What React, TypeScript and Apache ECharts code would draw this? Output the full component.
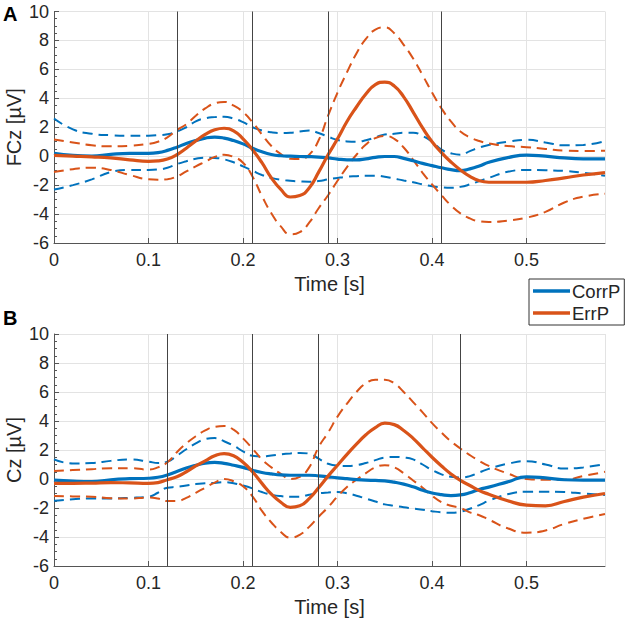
import React, { useEffect, useRef } from "react";
import * as echarts from "echarts";

// time samples [s]
const time = [0, 0.02, 0.04, 0.06, 0.08, 0.1, 0.11, 0.12, 0.13, 0.14, 0.15, 0.16, 0.17, 0.18, 0.19, 0.2, 0.21, 0.22, 0.23, 0.24, 0.25, 0.26, 0.27, 0.28, 0.29, 0.3, 0.31, 0.32, 0.33, 0.34, 0.35, 0.36, 0.37, 0.38, 0.39, 0.4, 0.41, 0.42, 0.43, 0.44, 0.45, 0.46, 0.48, 0.5, 0.52, 0.54, 0.56, 0.583];

// Panel A (FCz)
const corrMeanA = [0.2, 0.05, 0.0, 0.13, 0.2, 0.2, 0.25, 0.4, 0.62, 0.88, 1.08, 1.25, 1.32, 1.25, 1.08, 0.85, 0.55, 0.3, 0.12, 0.03, 0.0, -0.02, -0.03, -0.06, -0.12, -0.2, -0.25, -0.25, -0.18, -0.08, -0.02, -0.02, -0.15, -0.32, -0.5, -0.65, -0.8, -0.93, -1.0, -0.88, -0.68, -0.42, -0.1, 0.08, 0.0, -0.12, -0.18, -0.19];
const corrUpA = [2.6, 1.85, 1.55, 1.45, 1.42, 1.42, 1.45, 1.52, 1.7, 2.0, 2.4, 2.62, 2.7, 2.73, 2.6, 2.35, 2.0, 1.78, 1.65, 1.6, 1.62, 1.7, 1.78, 1.6, 1.35, 1.12, 1.02, 1.0, 1.1, 1.3, 1.5, 1.55, 1.62, 1.62, 1.4, 1.0, 0.45, 0.2, 0.1, 0.35, 0.6, 0.78, 1.0, 1.13, 0.95, 0.75, 0.78, 1.05];
const corrLoA = [-2.3, -2.0, -1.6, -1.1, -0.95, -0.95, -0.92, -0.8, -0.55, -0.35, -0.18, -0.1, -0.12, -0.22, -0.42, -0.7, -1.0, -1.3, -1.5, -1.63, -1.7, -1.74, -1.76, -1.72, -1.6, -1.5, -1.42, -1.38, -1.35, -1.35, -1.42, -1.55, -1.68, -1.8, -1.95, -2.08, -2.15, -2.18, -2.12, -1.95, -1.72, -1.5, -1.08, -0.95, -0.97, -1.02, -1.15, -1.35];
const errMeanA = [0.05, 0.0, -0.05, -0.12, -0.25, -0.36, -0.33, -0.2, 0.1, 0.55, 1.05, 1.5, 1.82, 1.93, 1.75, 1.2, 0.45, -0.45, -1.5, -2.3, -2.82, -2.72, -2.2, -1.1, 0.1, 1.2, 2.4, 3.4, 4.3, 4.95, 5.12, 4.85, 4.1, 3.05, 1.95, 1.0, 0.25, -0.4, -0.95, -1.4, -1.7, -1.8, -1.8, -1.8, -1.68, -1.5, -1.3, -1.13];
const errUpA = [1.15, 0.95, 0.75, 0.68, 0.72, 0.85, 1.0, 1.3, 1.8, 2.2, 2.8, 3.3, 3.65, 3.75, 3.5, 3.05, 2.35, 1.5, 0.7, 0.15, -0.18, -0.2, 0.1, 1.1, 2.8, 4.4, 5.8, 7.1, 8.1, 8.75, 8.9, 8.5, 7.7, 6.75, 5.6, 4.4, 3.3, 2.4, 1.7, 1.3, 1.05, 0.88, 0.7, 0.62, 0.5, 0.38, 0.36, 0.38];
const errLoA = [-1.1, -0.9, -0.8, -0.95, -1.3, -1.6, -1.63, -1.6, -1.4, -1.05, -0.7, -0.38, -0.05, 0.1, -0.05, -0.45, -1.4, -2.75, -3.95, -4.85, -5.4, -5.25, -4.6, -3.6, -2.7, -1.7, -0.75, 0.1, 0.8, 1.25, 1.4, 1.2, 0.6, -0.25, -1.15, -1.95, -2.7, -3.4, -3.95, -4.3, -4.5, -4.55, -4.45, -4.25, -3.85, -3.2, -2.8, -2.6];
const eventsA = [0.132, 0.215, 0.2885, 0.412];

// Panel B (Cz)
const corrMeanB = [-0.08, -0.15, -0.18, -0.05, 0.02, 0.05, 0.12, 0.28, 0.52, 0.76, 0.95, 1.1, 1.15, 1.08, 0.95, 0.8, 0.6, 0.45, 0.35, 0.28, 0.26, 0.26, 0.26, 0.22, 0.15, 0.08, 0.02, -0.04, -0.08, -0.1, -0.13, -0.22, -0.35, -0.54, -0.78, -0.97, -1.08, -1.14, -1.1, -0.95, -0.72, -0.56, -0.2, 0.15, 0.08, -0.05, -0.08, -0.08];
const corrUpB = [1.35, 1.07, 1.1, 1.25, 1.35, 1.2, 1.1, 1.2, 1.6, 2.05, 2.45, 2.75, 2.82, 2.6, 2.3, 1.9, 1.6, 1.55, 1.62, 1.7, 1.76, 1.8, 1.75, 1.4, 1.05, 0.92, 0.9, 0.95, 1.1, 1.3, 1.48, 1.52, 1.48, 1.35, 1.0, 0.62, 0.32, 0.15, 0.1, 0.2, 0.45, 0.7, 1.05, 1.23, 1.0, 0.72, 0.8, 1.03];
const corrLoB = [-1.5, -1.4, -1.34, -1.34, -1.3, -1.22, -0.95, -0.6, -0.54, -0.45, -0.35, -0.3, -0.27, -0.22, -0.3, -0.45, -0.65, -0.9, -1.08, -1.18, -1.22, -1.22, -1.08, -0.98, -0.93, -0.9, -0.98, -1.15, -1.35, -1.55, -1.75, -1.85, -1.95, -2.03, -2.12, -2.22, -2.3, -2.33, -2.26, -2.05, -1.8, -1.5, -1.05, -0.88, -0.88, -0.9, -1.0, -1.1];
const errMeanB = [-0.3, -0.3, -0.28, -0.25, -0.27, -0.3, -0.25, -0.05, 0.15, 0.5, 0.9, 1.25, 1.6, 1.75, 1.6, 1.15, 0.5, -0.3, -1.05, -1.6, -1.95, -1.85, -1.35, -0.6, 0.2, 0.95, 1.7, 2.4, 3.05, 3.55, 3.85, 3.75, 3.35, 2.8, 2.15, 1.5, 0.9, 0.35, -0.1, -0.45, -0.8, -1.05, -1.5, -1.8, -1.85, -1.55, -1.25, -1.0];
const errUpB = [0.55, 0.62, 0.68, 0.75, 0.75, 0.65, 0.8, 1.15, 1.85, 2.45, 2.95, 3.35, 3.6, 3.65, 3.4, 2.8, 2.1, 1.35, 0.8, 0.35, 0.0, 0.15, 0.8, 2.2, 3.2, 4.3, 5.2, 6.0, 6.6, 6.85, 6.85, 6.6, 6.0, 5.3, 4.6, 3.85, 3.2, 2.6, 2.1, 1.65, 1.25, 0.9, 0.38, 0.0, -0.05, -0.05, 0.2, 0.5];
const errLoB = [-1.18, -1.2, -1.22, -1.32, -1.35, -1.28, -1.35, -1.52, -1.52, -1.3, -0.95, -0.6, -0.25, 0.0, -0.15, -0.5, -1.2, -2.2, -3.0, -3.65, -4.05, -3.85, -3.3, -2.6, -1.95, -1.2, -0.55, -0.05, 0.4, 0.8, 0.95, 0.8, 0.4, -0.1, -0.6, -1.15, -1.6, -1.85, -2.0, -2.3, -2.5, -2.8, -3.4, -3.7, -3.55, -3.1, -2.75, -2.42];
const eventsB = [0.122, 0.215, 0.285, 0.43];

const panelLabels = ["A", "B"];
const yNames = ["FCz [µV]", "Cz [µV]"];
const xName = "Time [s]";
const legendNames = ["CorrP", "ErrP"];

const BLUE = "#0072BD";
const ORANGE = "#D95319";
const FONT = "'Liberation Sans', Arial, Helvetica, sans-serif";
const TXT = "#262626";

const pair = (vals: number[]) => vals.map((v, i) => [time[i], v]);

export default function App() {
  const ref = useRef<HTMLDivElement>(null);
  useEffect(() => {
    if (!ref.current) return;
    const chart = echarts.init(ref.current, undefined, { renderer: "svg" });

    const xAxisCfg = (gi: number) => ({
      type: "value",
      gridIndex: gi,
      min: 0,
      max: 0.583,
      interval: 0.1,
      name: xName,
      nameLocation: "middle",
      nameGap: 31,
      nameMoveOverlap: false,
      nameTextStyle: { fontSize: 20, color: TXT, fontFamily: FONT },
      axisLine: { show: true, onZero: false, lineStyle: { color: "#555", width: 1 } },
      axisTick: { show: true, inside: true, length: 5, lineStyle: { color: "#555" } },
      axisLabel: {
        fontSize: 18,
        color: TXT,
        fontFamily: FONT,
        margin: 8,
        showMaxLabel: false,
        formatter: (v: number) => {
          const r = Math.round(v * 10) / 10;
          return Math.abs(v - r) < 1e-6 ? String(r) : "";
        },
      },
      splitLine: { show: true, lineStyle: { color: "#e3e3e3", width: 1 } },
    });
    const yAxisCfg = (gi: number) => ({
      type: "value",
      gridIndex: gi,
      min: -6,
      max: 10,
      interval: 2,
      name: yNames[gi],
      nameLocation: "middle",
      nameGap: 30,
      nameRotate: 90,
      nameMoveOverlap: false,
      nameTextStyle: { fontSize: 20, color: TXT, fontFamily: FONT },
      axisLine: { show: true, onZero: false, lineStyle: { color: "#555", width: 1 } },
      axisTick: { show: true, inside: true, length: 5, lineStyle: { color: "#555" } },
      minorTick: { show: true, splitNumber: 4, length: 3, lineStyle: { color: "#555" } },
      axisLabel: { fontSize: 18, color: TXT, fontFamily: FONT, margin: 5 },
      splitLine: { show: true, lineStyle: { color: "#e3e3e3", width: 1 } },
    });

    const dashed = (name: string, vals: number[], color: string, gi: number, events?: number[]) => ({
      type: "line",
      name,
      xAxisIndex: gi,
      yAxisIndex: gi,
      data: pair(vals),
      smooth: true,
      symbol: "none",
      lineStyle: { color, width: 2, type: [10, 6] },
      z: 2,
      ...(events
        ? {
            markLine: {
              silent: true,
              symbol: ["none", "none"],
              label: { show: false },
              lineStyle: { color: "#444", width: 1, type: "solid" },
              data: events.map((e) => ({ xAxis: e })),
            },
          }
        : {}),
    });
    const solid = (name: string, vals: number[], color: string, gi: number, z: number) => ({
      type: "line",
      name,
      xAxisIndex: gi,
      yAxisIndex: gi,
      data: pair(vals),
      smooth: true,
      symbol: "none",
      itemStyle: { color },
      lineStyle: { color, width: 3.2 },
      z,
    });

    const option: any = {
      animation: false,
      textStyle: { fontFamily: FONT },
      grid: [
        { left: 54, top: 11.5, width: 551, height: 231.5, outerBoundsMode: "none", containLabel: false },
        { left: 54, top: 334, width: 551, height: 232, outerBoundsMode: "none", containLabel: false },
      ],
      xAxis: [xAxisCfg(0), xAxisCfg(1)],
      yAxis: [yAxisCfg(0), yAxisCfg(1)],
      legend: {
        data: legendNames.map((n) => ({ name: n, icon: "rect" })),
        orient: "vertical",
        left: 529,
        top: 279,
        itemWidth: 37,
        itemHeight: 3.5,
        itemGap: 2,
        padding: [2, 4, 2, 4],
        borderColor: "#333",
        borderWidth: 1,
        borderRadius: 0,
        backgroundColor: "#fff",
        textStyle: { fontSize: 18.5, lineHeight: 20, color: TXT, fontFamily: FONT, padding: [0, 0, 0, -3] },
        selectedMode: false,
      },
      graphic: [
        { type: "text", left: 3, top: 4, style: { text: panelLabels[0], font: "bold 20px " + FONT, fill: "#000" } },
        { type: "text", left: 3, top: 308, style: { text: panelLabels[1], font: "bold 20px " + FONT, fill: "#000" } },
      ],
      series: [
        dashed("corrUpA", corrUpA, BLUE, 0, eventsA),
        dashed("corrLoA", corrLoA, BLUE, 0),
        dashed("errUpA", errUpA, ORANGE, 0),
        dashed("errLoA", errLoA, ORANGE, 0),
        solid(legendNames[0], corrMeanA, BLUE, 0, 3),
        solid(legendNames[1], errMeanA, ORANGE, 0, 4),
        dashed("corrUpB", corrUpB, BLUE, 1, eventsB),
        dashed("corrLoB", corrLoB, BLUE, 1),
        dashed("errUpB", errUpB, ORANGE, 1),
        dashed("errLoB", errLoB, ORANGE, 1),
        solid(legendNames[0], corrMeanB, BLUE, 1, 3),
        solid(legendNames[1], errMeanB, ORANGE, 1, 4),
      ],
    };
    chart.setOption(option);
    return () => chart.dispose();
  }, []);
  return <div ref={ref} style={{ width: 630, height: 622, position: "absolute", left: 0, top: 0, background: "#fff" }} />;
}
